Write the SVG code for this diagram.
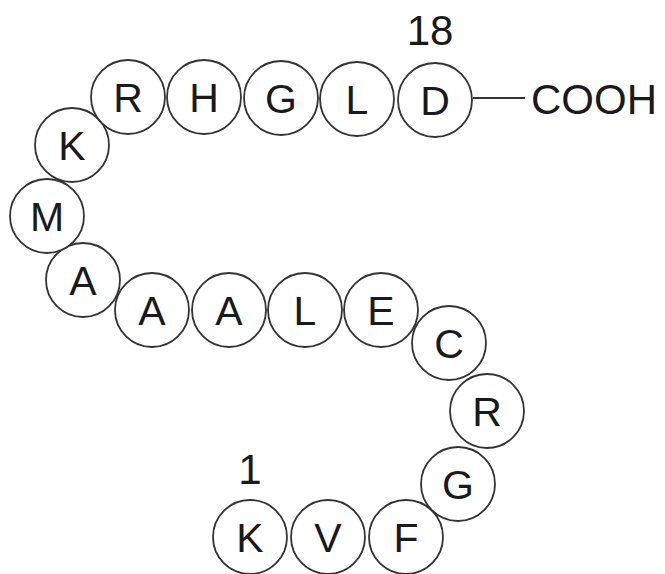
<svg xmlns="http://www.w3.org/2000/svg" width="665" height="574" viewBox="0 0 665 574">
<style>
.res circle{fill:#fff;stroke:#333;stroke-width:1.8}
.res text{font-family:"Liberation Sans",Arial,sans-serif;font-size:41px;fill:#1a1a1a;text-anchor:middle}
.lbl{font-family:"Liberation Sans",Arial,sans-serif;font-size:42px;fill:#1a1a1a}
</style>
<rect width="665" height="574" fill="#fff"/>
<g id="connectors"><line x1="473" y1="98" x2="525" y2="98" stroke="#333" stroke-width="2"/></g>
<g class="res">
<g id="r1"><circle cx="250" cy="537" r="37"/><text x="250" y="552">K</text></g>
<g id="r2"><circle cx="328" cy="537" r="37"/><text x="328" y="552">V</text></g>
<g id="r3"><circle cx="406" cy="537" r="37"/><text x="406" y="552">F</text></g>
<g id="r4"><circle cx="458" cy="484" r="37"/><text x="458" y="499">G</text></g>
<g id="r5"><circle cx="487" cy="411" r="37"/><text x="487" y="426">R</text></g>
<g id="r6"><circle cx="449" cy="343" r="37"/><text x="449" y="358">C</text></g>
<g id="r7"><circle cx="381" cy="310" r="37"/><text x="381" y="325">E</text></g>
<g id="r8"><circle cx="305" cy="310" r="37"/><text x="305" y="325">L</text></g>
<g id="r9"><circle cx="229" cy="310" r="37"/><text x="229" y="325">A</text></g>
<g id="r10"><circle cx="152" cy="310" r="37"/><text x="152" y="325">A</text></g>
<g id="r11"><circle cx="83" cy="280" r="37"/><text x="83" y="295">A</text></g>
<g id="r12"><circle cx="47" cy="216" r="37"/><text x="47" y="231">M</text></g>
<g id="r13"><circle cx="72" cy="145" r="37"/><text x="72" y="160">K</text></g>
<g id="r14"><circle cx="128" cy="97" r="37"/><text x="128" y="112">R</text></g>
<g id="r15"><circle cx="204" cy="97" r="37"/><text x="204" y="112">H</text></g>
<g id="r16"><circle cx="281" cy="98" r="37"/><text x="281" y="113">G</text></g>
<g id="r17"><circle cx="357" cy="99" r="37"/><text x="357" y="114">L</text></g>
<g id="r18"><circle cx="435" cy="100" r="37"/><text x="435" y="115">D</text></g>
</g>
<text class="lbl" x="430" y="45" text-anchor="middle">18</text>
<text class="lbl" x="250" y="484" text-anchor="middle">1</text>
<text id="cooh" class="lbl" x="531" y="114">COOH</text>
</svg>
